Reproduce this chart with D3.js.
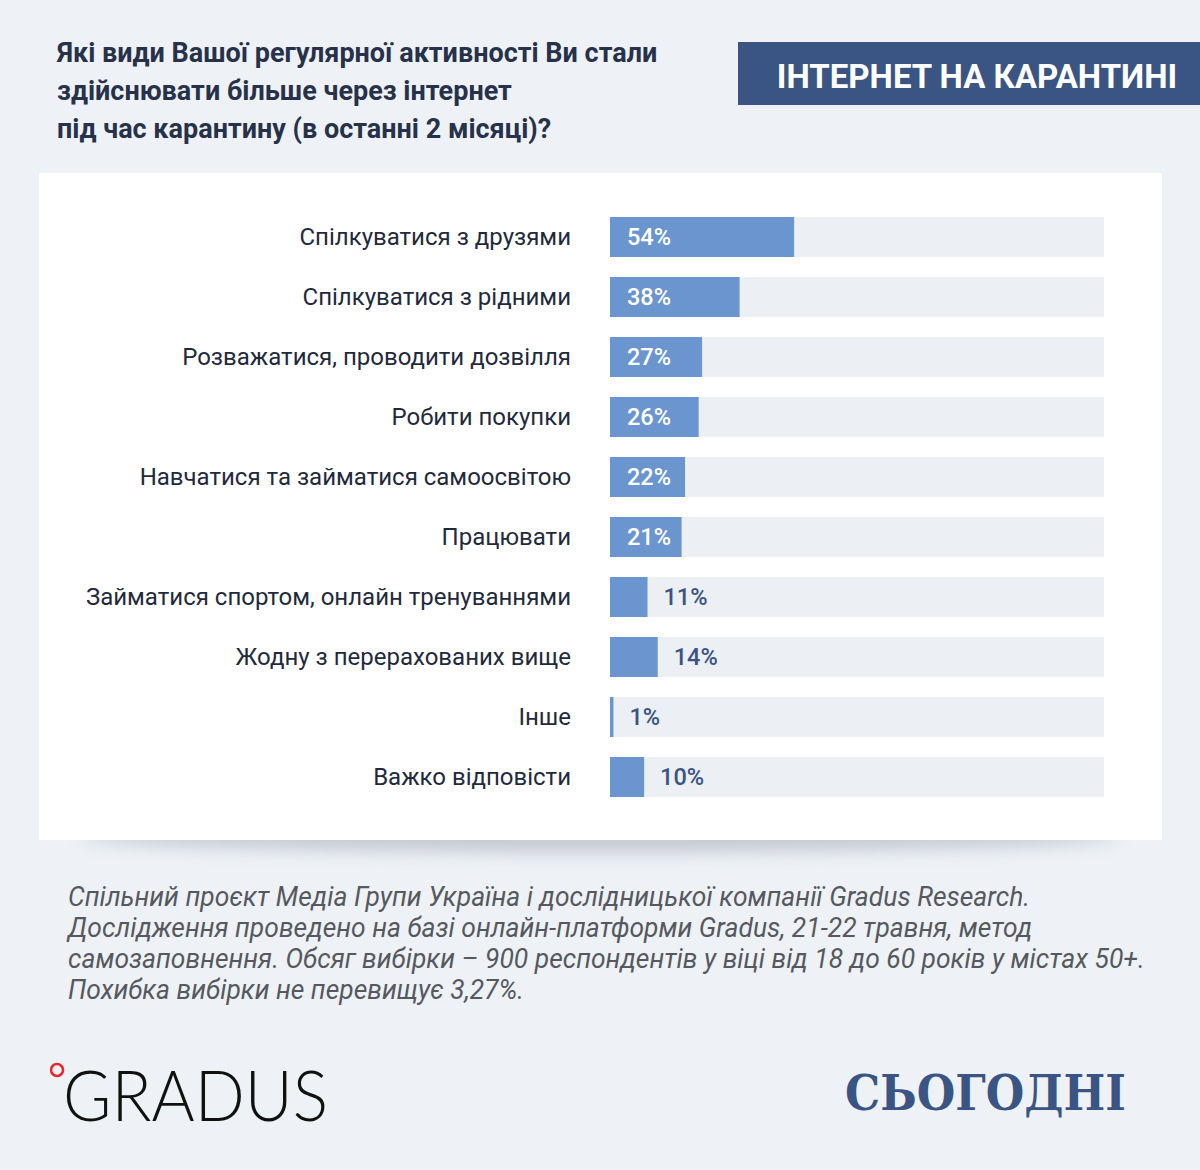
<!DOCTYPE html>
<html>
<head>
<meta charset="utf-8">
<script src="https://cdn.jsdelivr.net/npm/d3@7"></script>
<style>
  html, body { margin: 0; padding: 0; background: #eef2f6; }
  svg { display: block; }
</style>
</head>
<body>
<svg id="chart"></svg>
<script>
// data
const categories = [
  "Спілкуватися з друзями",
  "Спілкуватися з рідними",
  "Розважатися, проводити дозвілля",
  "Робити покупки",
  "Навчатися та займатися самоосвітою",
  "Працювати",
  "Займатися спортом, онлайн тренуваннями",
  "Жодну з перерахованих вище",
  "Інше",
  "Важко відповісти"
];
const values = [54, 38, 27, 26, 22, 21, 11, 14, 1, 10];

const titleLines = [
  "Які види Вашої регулярної активності Ви стали",
  "здійснювати більше через інтернет",
  "під час карантину (в останні 2 місяці)?"
];
const badgeText = "ІНТЕРНЕТ НА КАРАНТИНІ";
const noteLines = [
  "Спільний проєкт Медіа Групи Україна і дослідницької компанії Gradus Research.",
  "Дослідження проведено на базі онлайн-платформи Gradus, 21-22 травня, метод",
  "самозаповнення. Обсяг вибірки – 900 респондентів у віці від 18 до 60 років у містах 50+.",
  "Похибка вибірки не перевищує 3,27%."
];

const W = 1200, H = 1170;
const svg = d3.select("#chart").attr("width", W).attr("height", H);

const defs = svg.append("defs");
defs.append("filter").attr("id", "soft")
  .attr("x", "-20%").attr("y", "-200%").attr("width", "140%").attr("height", "500%")
  .append("feGaussianBlur").attr("stdDeviation", 9);

svg.append("rect").attr("width", W).attr("height", H).attr("fill", "#eef2f6");

// title
svg.append("g").selectAll("text")
  .data(titleLines)
  .join("text")
  .attr("x", 57)
  .attr("y", (d, i) => 62 + i * 38)
  .attr("font-family", "Roboto, sans-serif")
  .attr("font-weight", 700)
  .attr("font-size", 27)
  .attr("fill", "#27324a")
  .text(d => d);

// badge
svg.append("rect")
  .attr("x", 738).attr("y", 42).attr("width", W - 738).attr("height", 63)
  .attr("fill", "#3a5583");
svg.append("text")
  .attr("x", 977).attr("y", 88)
  .attr("text-anchor", "middle")
  .attr("font-family", "Roboto, sans-serif")
  .attr("font-weight", 700)
  .attr("font-size", 33)
  .attr("fill", "#ffffff")
  .text(badgeText);

// card with shadow
svg.append("ellipse")
  .attr("cx", 600).attr("cy", 836).attr("rx", 520).attr("ry", 16)
  .attr("fill", "#b9bec6").attr("opacity", 0.8)
  .attr("filter", "url(#soft)");
svg.append("rect")
  .attr("x", 39).attr("y", 173).attr("width", 1123).attr("height", 667)
  .attr("fill", "#ffffff");

// bars
const margin = { top: 217, left: 610 };
const trackW = 494;
const x = d3.scaleLinear().domain([0, 100]).range([0, 341]);
const y = d3.scaleBand()
  .domain(categories)
  .range([0, 580])
  .paddingInner(1 / 3)
  .paddingOuter(0);

const g = svg.append("g").attr("transform", `translate(${margin.left},${margin.top})`);

const rows = g.selectAll(".row")
  .data(categories.map((c, i) => ({ cat: c, val: values[i] })))
  .join("g")
  .attr("class", "row")
  .attr("transform", d => `translate(0,${y(d.cat)})`);

rows.append("rect")
  .attr("width", trackW)
  .attr("height", y.bandwidth())
  .attr("fill", "#eceff3");

rows.append("rect")
  .attr("width", d => x(d.val))
  .attr("height", y.bandwidth())
  .attr("fill", "#6a95cf");

rows.append("text")
  .attr("x", -39)
  .attr("y", y.bandwidth() / 2)
  .attr("dy", "0.33em")
  .attr("text-anchor", "end")
  .attr("font-family", "Roboto, sans-serif")
  .attr("font-size", 24)
  .attr("fill", "#1f2a3d")
  .text(d => d.cat);

rows.append("text")
  .attr("x", d => d.val >= 20 ? 17 : x(d.val) + 16)
  .attr("y", y.bandwidth() / 2)
  .attr("dy", "0.35em")
  .attr("font-family", "Roboto, sans-serif")
  .attr("font-weight", 500)
  .attr("font-size", 23.5)
  .attr("fill", d => d.val >= 20 ? "#ffffff" : "#3b5483")
  .text(d => d.val + "%");

// footnote (condensed italic)
const note = svg.append("g").attr("transform", "translate(68,0)");
const noteText = note.selectAll("text")
  .data(noteLines)
  .join("text")
  .attr("x", 0)
  .attr("y", (d, i) => 906 + i * 31)
  .attr("font-family", "Roboto, sans-serif")
  .attr("font-style", "italic")
  .attr("font-size", 27)
  .attr("fill", "#55595f")
  .text(d => d);
const widest = noteText.nodes()[2].getComputedTextLength();
note.attr("transform", `translate(68,0) scale(${1077 / widest},1)`);

// logos
svg.append("circle")
  .attr("cx", 57).attr("cy", 1070).attr("r", 6)
  .attr("fill", "none").attr("stroke", "#e8262b").attr("stroke-width", 2.5);
svg.append("text")
  .attr("x", 63).attr("y", 1121)
  .attr("font-family", "Lato, sans-serif")
  .attr("font-weight", 300)
  .attr("font-size", 70)
  .attr("textLength", 265)
  .attr("lengthAdjust", "spacingAndGlyphs")
  .attr("fill", "#111111")
  .text("GRADUS");
svg.append("text")
  .attr("x", 845).attr("y", 1110)
  .attr("font-family", "'DejaVu Serif', serif")
  .attr("font-weight", 700)
  .attr("font-size", 48)
  .attr("textLength", 281)
  .attr("lengthAdjust", "spacingAndGlyphs")
  .attr("fill", "#3a5583")
  .text("СЬОГОДНІ");
</script>
</body>
</html>
